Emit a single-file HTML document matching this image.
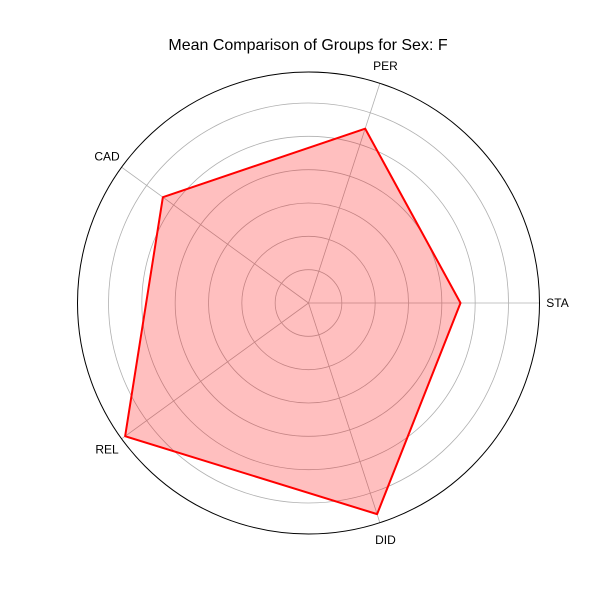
<!DOCTYPE html>
<html><head><meta charset="utf-8"><style>
body{margin:0;background:#fff;}
svg{display:block;font-family:"Liberation Sans","DejaVu Sans",sans-serif;}
</style></head><body>
<svg id="chart" width="600" height="600">
<text x="308" y="50" text-anchor="middle" font-size="16">Mean Comparison of Groups for Sex: F</text>
<g id="grid"></g><g id="series"></g><g id="labels"></g>
</svg>
<script>
const categories = ["STA","PER","CAD","REL","DID"];
const values = [4.56, 5.5, 5.4, 6.8, 6.66];
const ringTicks = [1,2,3,4,5,6];
const rMax = 6.93;
const cx=308.5, cy=303, R=231;
const NS="http://www.w3.org/2000/svg";
function rScale(v){return v/rMax*R;}
function ang(i){return i*2*Math.PI/categories.length;}
function pt(i,v){const r=rScale(v),a=ang(i);return [cx+r*Math.cos(a),cy-r*Math.sin(a)];}
function mk(tag,attrs,parent){const e=document.createElementNS(NS,tag);for(const k in attrs)e.setAttribute(k,attrs[k]);parent.appendChild(e);return e;}
const grid=document.getElementById('grid'),series=document.getElementById('series'),labels=document.getElementById('labels');
ringTicks.forEach(t=>{
  const c=mk('circle',{cx:cx,cy:cy,r:rScale(t),fill:'none',stroke:'#b0b0b0','stroke-width':0.8},grid);
  
  
});
categories.forEach((c,i)=>{
  const p=pt(i,rMax);
  const l=mk('line',{x1:cx,y1:cy,x2:p[0],y2:p[1],stroke:'#b0b0b0','stroke-width':0.8},grid);
  
  
  const a=ang(i),lr=R+18;
  const t=mk('text',{x:cx+lr*Math.cos(a),y:cy-lr*Math.sin(a)+4,'text-anchor':'middle','font-size':12},labels);
  t.textContent=c;
  
  
});
const outer=mk('circle',{cx:cx,cy:cy,r:R,fill:'none',stroke:'#000','stroke-width':1},grid);


const pts=values.map((v,i)=>pt(i,v).join(',')).join(' ');
const poly=mk('polygon',{points:pts,fill:'rgba(255,0,0,0.25)',stroke:'#ff0000','stroke-width':2,'stroke-linejoin':'round'},series);


</script>
</body></html>
